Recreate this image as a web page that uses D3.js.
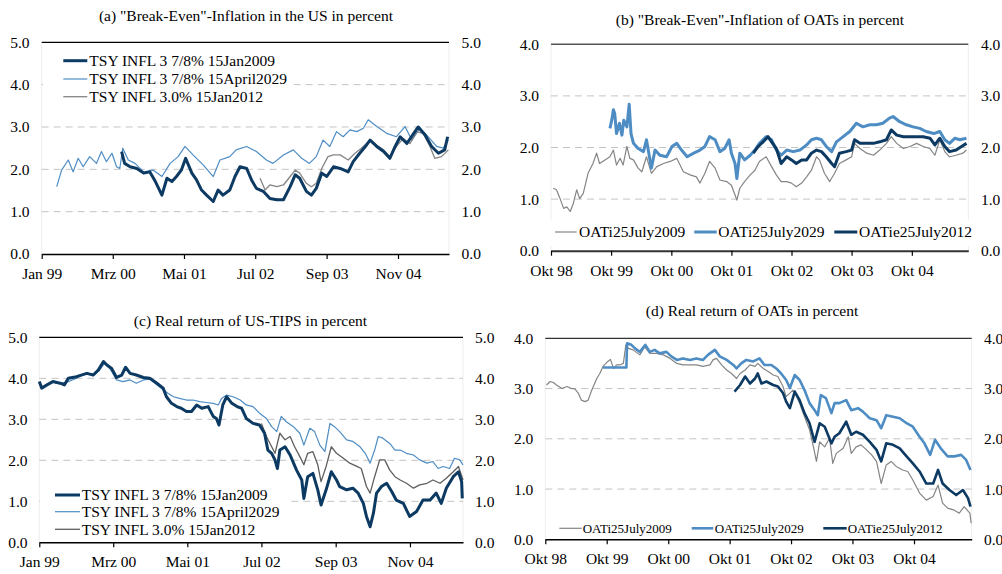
<!DOCTYPE html>
<html>
<head>
<meta charset="utf-8">
<script src="https://cdn.jsdelivr.net/npm/d3@7"></script>
<style>
  body { margin: 0; background: #fff; }
  svg { display: block; font-family: "Liberation Serif", "Times New Roman", serif; }
  svg text { font-family: "Liberation Serif", "Times New Roman", serif; }
</style>
</head>
<body>
<svg id="chart" width="1002" height="574"></svg>
<script>
// ---- data: [decimal year, percent] ----

// (a) break-even inflation, US TIPS
var usBe2009 = [[2000.31,2.42],[2000.36,2.14],[2000.45,2.06],[2000.56,2.02],[2000.67,1.91],[2000.77,1.94],[2000.86,1.71],[2000.97,1.39],[2001.05,1.79],[2001.13,1.71],[2001.21,1.83],[2001.29,1.98],[2001.36,2.26],[2001.46,1.91],[2001.54,1.75],[2001.62,1.51],[2001.70,1.39],[2001.81,1.24],[2001.89,1.51],[2001.97,1.39],[2002.08,1.51],[2002.17,1.83],[2002.25,2.06],[2002.36,2.02],[2002.44,1.75],[2002.52,1.55],[2002.63,1.48],[2002.74,1.31],[2002.85,1.28],[2002.96,1.28],[2003.07,1.59],[2003.15,1.87],[2003.23,1.79],[2003.34,1.48],[2003.42,1.39],[2003.50,1.55],[2003.59,1.91],[2003.67,1.83],[2003.78,2.06],[2003.89,2.02],[2004.02,1.94],[2004.10,2.18],[2004.21,2.38],[2004.32,2.57],[2004.38,2.69],[2004.49,2.54],[2004.60,2.42],[2004.70,2.26],[2004.79,2.54],[2004.87,2.77],[2004.98,2.61],[2005.09,2.85],[2005.17,3.00],[2005.28,2.81],[2005.39,2.54],[2005.50,2.38],[2005.60,2.46],[2005.65,2.77]];
var usBe2029 = [[1999.25,1.59],[1999.33,1.98],[1999.44,2.22],[1999.52,1.94],[1999.60,2.26],[1999.68,2.06],[1999.79,2.30],[1999.90,2.14],[1999.98,2.42],[2000.06,2.18],[2000.15,2.38],[2000.23,2.06],[2000.28,2.02],[2000.33,2.50],[2000.42,2.22],[2000.53,2.14],[2000.67,1.94],[2000.83,1.98],[2000.97,1.83],[2001.10,2.14],[2001.24,2.30],[2001.35,2.54],[2001.48,2.34],[2001.65,2.10],[2001.81,1.83],[2001.92,2.22],[2002.08,2.30],[2002.19,2.46],[2002.36,2.54],[2002.52,2.42],[2002.68,2.22],[2002.79,2.14],[2002.96,2.34],[2003.12,2.46],[2003.26,2.26],[2003.39,2.14],[2003.50,2.30],[2003.61,2.69],[2003.72,2.54],[2003.83,2.89],[2003.94,2.77],[2004.05,2.93],[2004.16,2.89],[2004.27,2.97],[2004.35,3.17],[2004.49,3.01],[2004.65,2.85],[2004.81,2.77],[2004.95,3.01],[2005.06,2.69],[2005.20,2.97],[2005.33,2.77],[2005.47,2.54],[2005.58,2.50],[2005.66,2.69]];
var usBe2012 = [[2002.58,1.79],[2002.66,1.51],[2002.74,1.63],[2002.85,1.59],[2002.96,1.63],[2003.07,1.83],[2003.15,1.98],[2003.23,1.91],[2003.34,1.67],[2003.42,1.59],[2003.50,1.67],[2003.59,2.02],[2003.69,2.30],[2003.78,2.34],[2003.89,2.34],[2004.02,2.22],[2004.13,2.38],[2004.24,2.50],[2004.38,2.69],[2004.49,2.57],[2004.60,2.46],[2004.70,2.30],[2004.81,2.54],[2004.92,2.73],[2005.03,2.61],[2005.14,2.89],[2005.25,2.85],[2005.36,2.54],[2005.44,2.26],[2005.55,2.30],[2005.66,2.46]];

// (b) break-even inflation, French OATs
var frBe2009 = [[1998.79,1.21],[1998.84,1.18],[1998.90,1.01],[1998.96,0.82],[1999.01,0.85],[1999.07,0.76],[1999.12,0.92],[1999.18,1.18],[1999.23,1.01],[1999.29,1.11],[1999.37,1.50],[1999.45,1.69],[1999.51,1.89],[1999.56,1.69],[1999.65,1.76],[1999.73,1.82],[1999.79,1.95],[1999.84,1.66],[1999.90,1.79],[1999.95,1.66],[2000.01,2.02],[2000.06,1.79],[2000.12,1.76],[2000.20,1.60],[2000.26,1.53],[2000.34,1.82],[2000.42,1.50],[2000.51,1.63],[2000.62,1.69],[2000.73,1.73],[2000.84,1.79],[2000.95,1.53],[2001.06,1.47],[2001.17,1.43],[2001.23,1.31],[2001.31,1.50],[2001.39,1.73],[2001.48,1.60],[2001.56,1.37],[2001.67,1.34],[2001.75,1.27],[2001.81,1.08],[2001.84,0.98],[2001.89,1.21],[2001.97,1.34],[2002.06,1.47],[2002.14,1.56],[2002.22,1.73],[2002.33,1.82],[2002.42,1.63],[2002.50,1.47],[2002.58,1.34],[2002.67,1.34],[2002.75,1.31],[2002.83,1.24],[2002.92,1.31],[2003.00,1.43],[2003.08,1.56],[2003.17,1.82],[2003.22,1.76],[2003.30,1.50],[2003.39,1.34],[2003.47,1.50],[2003.55,1.69],[2003.66,1.76],[2003.75,1.82],[2003.80,2.08],[2003.89,1.98],[2004.00,1.89],[2004.11,1.85],[2004.22,1.95],[2004.33,2.08],[2004.41,2.21],[2004.50,2.08],[2004.61,1.98],[2004.72,2.02],[2004.83,2.08],[2004.94,2.02],[2005.05,1.98],[2005.13,1.85],[2005.22,2.15],[2005.30,1.92],[2005.38,1.82],[2005.49,1.85],[2005.60,1.89],[2005.66,1.95]];
var frBe2029 = [[1999.73,2.37],[1999.76,2.53],[1999.79,2.73],[1999.81,2.66],[1999.84,2.27],[1999.89,2.47],[1999.93,2.24],[1999.96,2.53],[2000.01,2.40],[2000.05,2.84],[2000.08,2.27],[2000.12,2.08],[2000.20,1.98],[2000.29,1.92],[2000.34,2.15],[2000.42,1.60],[2000.48,1.95],[2000.56,1.85],[2000.67,1.82],[2000.76,2.02],[2000.84,2.08],[2000.92,1.95],[2001.01,1.82],[2001.12,1.89],[2001.23,1.95],[2001.31,2.02],[2001.39,2.21],[2001.48,2.15],[2001.56,1.92],[2001.64,1.98],[2001.71,2.15],[2001.75,1.89],[2001.81,1.69],[2001.84,1.40],[2001.89,1.89],[2001.97,1.76],[2002.06,1.85],[2002.14,1.95],[2002.22,2.08],[2002.33,2.21],[2002.42,2.15],[2002.50,1.95],[2002.58,1.85],[2002.67,1.95],[2002.78,1.92],[2002.89,1.95],[2003.00,2.05],[2003.08,2.15],[2003.17,2.18],[2003.25,2.15],[2003.33,2.02],[2003.42,1.92],[2003.50,2.11],[2003.61,2.21],[2003.72,2.31],[2003.83,2.47],[2003.94,2.40],[2004.05,2.44],[2004.16,2.44],[2004.27,2.47],[2004.38,2.57],[2004.44,2.60],[2004.55,2.50],[2004.66,2.44],[2004.77,2.40],[2004.88,2.37],[2004.99,2.31],[2005.11,2.27],[2005.22,2.31],[2005.30,2.15],[2005.38,2.08],[2005.47,2.18],[2005.55,2.15],[2005.66,2.18]];
var frBe2012 = [[2002.11,1.89],[2002.20,2.02],[2002.28,2.11],[2002.36,2.21],[2002.42,2.11],[2002.50,1.98],[2002.58,1.69],[2002.67,1.82],[2002.75,1.76],[2002.83,1.69],[2002.92,1.76],[2003.00,1.76],[2003.08,1.89],[2003.17,1.95],[2003.25,1.92],[2003.33,1.82],[2003.42,1.69],[2003.47,1.63],[2003.55,1.89],[2003.66,1.92],[2003.75,1.95],[2003.80,2.15],[2003.89,2.08],[2004.00,2.08],[2004.11,2.08],[2004.22,2.11],[2004.33,2.15],[2004.41,2.34],[2004.50,2.24],[2004.61,2.21],[2004.72,2.21],[2004.83,2.21],[2004.94,2.21],[2005.05,2.18],[2005.13,2.05],[2005.22,2.18],[2005.30,2.02],[2005.38,1.92],[2005.49,1.95],[2005.58,2.02],[2005.66,2.08]];

// (c) real yield, US TIPS
var usRy2009 = [[1999.00,3.92],[1999.04,3.76],[1999.12,3.84],[1999.22,3.92],[1999.33,3.88],[1999.40,3.84],[1999.46,4.00],[1999.59,4.04],[1999.75,4.12],[1999.85,4.08],[1999.93,4.20],[2000.01,4.41],[2000.06,4.33],[2000.14,4.24],[2000.22,4.02],[2000.30,4.08],[2000.36,4.27],[2000.43,4.12],[2000.53,4.08],[2000.64,4.02],[2000.74,4.00],[2000.85,3.88],[2000.95,3.76],[2001.00,3.55],[2001.08,3.39],[2001.16,3.31],[2001.24,3.27],[2001.32,3.19],[2001.40,3.19],[2001.48,3.35],[2001.56,3.27],[2001.66,3.31],[2001.74,3.07],[2001.79,3.02],[2001.83,2.86],[2001.89,3.35],[2001.95,3.55],[2002.03,3.39],[2002.11,3.31],[2002.19,3.27],[2002.26,3.02],[2002.37,2.90],[2002.47,2.86],[2002.55,2.66],[2002.60,2.25],[2002.66,2.17],[2002.71,2.01],[2002.75,1.80],[2002.79,2.25],[2002.87,2.33],[2002.95,2.13],[2003.05,1.76],[2003.13,1.52],[2003.17,1.07],[2003.23,1.60],[2003.31,1.68],[2003.39,1.28],[2003.44,0.91],[2003.52,1.28],[2003.60,1.72],[2003.68,1.52],[2003.73,1.36],[2003.84,1.28],[2003.94,1.32],[2004.02,1.20],[2004.10,0.95],[2004.15,0.63],[2004.21,0.38],[2004.26,0.71],[2004.31,1.20],[2004.39,1.36],[2004.47,1.44],[2004.55,1.24],[2004.62,1.03],[2004.73,0.95],[2004.83,0.63],[2004.94,0.75],[2005.04,1.03],[2005.15,1.03],[2005.25,1.20],[2005.33,0.95],[2005.41,1.32],[2005.52,1.60],[2005.60,1.72],[2005.65,1.48],[2005.66,1.07]];
var usRy2029 = [[1999.25,3.88],[1999.43,3.90],[1999.59,4.00],[1999.75,4.14],[1999.85,4.06],[1999.95,4.20],[2000.03,4.37],[2000.11,4.24],[2000.22,3.96],[2000.32,3.92],[2000.43,3.96],[2000.53,3.88],[2000.64,3.96],[2000.74,3.98],[2000.85,3.84],[2000.95,3.72],[2001.03,3.63],[2001.11,3.55],[2001.21,3.51],[2001.32,3.47],[2001.42,3.47],[2001.53,3.43],[2001.63,3.41],[2001.74,3.39],[2001.82,3.35],[2001.87,3.51],[2001.95,3.59],[2002.05,3.55],[2002.16,3.47],[2002.26,3.35],[2002.37,3.31],[2002.47,3.15],[2002.58,3.02],[2002.66,2.82],[2002.74,2.70],[2002.81,3.07],[2002.89,2.94],[2003.00,2.82],[2003.10,2.66],[2003.17,2.37],[2003.26,2.78],[2003.34,2.70],[2003.42,2.37],[2003.50,2.21],[2003.58,2.90],[2003.65,2.82],[2003.73,2.70],[2003.84,2.50],[2003.94,2.46],[2004.05,2.33],[2004.13,2.17],[2004.21,1.93],[2004.28,2.25],[2004.34,2.58],[2004.41,2.54],[2004.52,2.41],[2004.60,2.25],[2004.68,2.25],[2004.78,2.17],[2004.89,2.13],[2004.99,2.01],[2005.10,1.93],[2005.20,1.97],[2005.28,1.80],[2005.36,1.85],[2005.46,1.80],[2005.54,2.05],[2005.62,2.01],[2005.67,1.89]];
var usRy2012 = [[2002.50,2.90],[2002.58,2.58],[2002.66,2.33],[2002.71,2.17],[2002.79,2.66],[2002.87,2.50],[2002.95,2.58],[2003.02,2.33],[2003.10,2.09],[2003.17,1.89],[2003.23,2.17],[2003.31,2.21],[2003.39,1.89],[2003.44,1.48],[2003.52,1.85],[2003.60,2.33],[2003.68,2.17],[2003.79,2.05],[2003.89,1.93],[2004.00,1.85],[2004.07,1.80],[2004.15,1.36],[2004.21,1.20],[2004.28,1.60],[2004.36,2.01],[2004.44,2.01],[2004.52,1.76],[2004.60,1.60],[2004.68,1.52],[2004.78,1.44],[2004.89,1.32],[2004.99,1.40],[2005.10,1.44],[2005.20,1.52],[2005.31,1.44],[2005.41,1.56],[2005.52,1.72],[2005.60,1.85],[2005.67,1.52]];

// (d) real yield, French OATs
var frRy2009 = [[1998.77,3.07],[1998.83,3.14],[1998.88,3.12],[1998.93,3.07],[1999.02,3.00],[1999.10,3.04],[1999.18,3.00],[1999.23,3.00],[1999.29,2.91],[1999.34,2.77],[1999.40,2.74],[1999.45,2.77],[1999.50,2.94],[1999.59,3.20],[1999.64,3.30],[1999.69,3.44],[1999.77,3.54],[1999.81,3.58],[1999.86,3.40],[1999.91,3.47],[1999.96,3.47],[2000.02,3.50],[2000.06,3.87],[2000.10,3.80],[2000.18,3.77],[2000.29,3.67],[2000.37,3.83],[2000.45,3.70],[2000.56,3.70],[2000.67,3.67],[2000.78,3.60],[2000.89,3.50],[2000.99,3.47],[2001.10,3.47],[2001.21,3.47],[2001.32,3.44],[2001.43,3.47],[2001.48,3.57],[2001.54,3.60],[2001.62,3.47],[2001.70,3.37],[2001.78,3.30],[2001.86,3.20],[2001.92,3.30],[2002.00,3.37],[2002.08,3.47],[2002.16,3.44],[2002.21,3.50],[2002.30,3.40],[2002.38,3.34],[2002.46,3.27],[2002.54,3.24],[2002.62,3.04],[2002.67,2.84],[2002.73,2.91],[2002.78,2.97],[2002.84,2.84],[2002.89,2.71],[2002.97,2.44],[2003.05,2.18],[2003.11,1.84],[2003.16,1.55],[2003.22,1.94],[2003.30,1.84],[2003.38,2.01],[2003.43,1.51],[2003.49,1.71],[2003.60,1.81],[2003.68,2.04],[2003.73,1.71],[2003.81,1.84],[2003.89,1.88],[2003.98,1.78],[2004.06,1.68],[2004.14,1.55],[2004.22,1.11],[2004.30,1.48],[2004.38,1.55],[2004.46,1.45],[2004.57,1.38],[2004.65,1.35],[2004.73,1.18],[2004.84,0.92],[2004.95,0.78],[2005.06,0.85],[2005.14,1.08],[2005.22,0.72],[2005.30,0.62],[2005.41,0.58],[2005.49,0.52],[2005.57,0.65],[2005.66,0.52],[2005.68,0.32]];
var frRy2029 = [[1999.69,3.42],[1999.80,3.42],[1999.91,3.42],[2000.07,3.42],[2000.08,3.90],[2000.15,3.87],[2000.21,3.80],[2000.29,3.73],[2000.38,3.87],[2000.45,3.73],[2000.53,3.77],[2000.61,3.70],[2000.72,3.73],[2000.80,3.64],[2000.89,3.57],[2000.99,3.60],[2001.10,3.57],[2001.21,3.60],[2001.32,3.57],[2001.40,3.67],[2001.51,3.77],[2001.59,3.64],[2001.70,3.57],[2001.81,3.47],[2001.86,3.40],[2001.94,3.50],[2002.02,3.57],[2002.13,3.54],[2002.24,3.60],[2002.32,3.47],[2002.43,3.47],[2002.51,3.40],[2002.59,3.30],[2002.67,3.17],[2002.73,3.01],[2002.81,3.27],[2002.89,3.17],[2002.97,2.97],[2003.05,2.71],[2003.13,2.57],[2003.19,2.47],[2003.24,2.87],[2003.32,2.81],[2003.41,2.51],[2003.46,2.71],[2003.54,2.71],[2003.65,2.77],[2003.73,2.57],[2003.84,2.61],[2003.92,2.54],[2004.03,2.41],[2004.14,2.37],[2004.22,2.21],[2004.30,2.47],[2004.41,2.44],[2004.52,2.41],[2004.63,2.31],[2004.73,2.24],[2004.84,2.04],[2004.92,1.91],[2005.01,1.68],[2005.09,1.98],[2005.19,1.81],[2005.30,1.65],[2005.41,1.65],[2005.52,1.68],[2005.60,1.58],[2005.67,1.38]];
var frRy2012 = [[2001.83,2.94],[2001.92,3.07],[2002.00,3.24],[2002.08,3.10],[2002.16,3.20],[2002.21,3.30],[2002.27,3.10],[2002.35,3.14],[2002.46,3.07],[2002.54,3.04],[2002.62,2.91],[2002.67,2.74],[2002.73,2.61],[2002.81,2.94],[2002.89,2.77],[2002.97,2.51],[2003.05,2.31],[2003.13,1.94],[2003.22,2.31],[2003.30,2.24],[2003.41,1.91],[2003.46,2.04],[2003.54,2.11],[2003.65,2.34],[2003.73,2.08],[2003.81,2.14],[2003.92,2.08],[2004.03,1.94],[2004.14,1.78],[2004.22,1.55],[2004.30,1.91],[2004.41,1.88],[2004.52,1.81],[2004.63,1.65],[2004.73,1.51],[2004.84,1.35],[2004.95,1.11],[2005.06,1.11],[2005.14,1.38],[2005.22,1.11],[2005.33,0.98],[2005.44,0.88],[2005.55,0.98],[2005.63,0.82],[2005.67,0.65]];

var usNames = ["TSY INFL 3 7/8% 15Jan2009", "TSY INFL 3 7/8% 15April2029", "TSY INFL 3.0% 15Jan2012"];
var frNames = ["OATi25July2009", "OATi25July2029", "OATie25July2012"];
var titles = [
  "(a) \"Break-Even\"-Inflation in the US in percent",
  "(b) \"Break-Even\"-Inflation of OATs in percent",
  "(c) Real return of US-TIPS in percent",
  "(d) Real return of OATs in percent"
];
var germanShortMonths = ["Jan","Feb","Mrz","Apr","Mai","Jun","Jul","Aug","Sep","Okt","Nov","Dez"];

var navy = "#0c3a62", blue = "#4e8dc4", grey = "#858585", darkGrey = "#5e5e5e";
var serif = "Liberation Serif, Times New Roman, serif";

// german month labels for the time axis
var de = d3.timeFormatLocale({
  dateTime: "%A, %e. %B %Y, %X", date: "%d.%m.%Y", time: "%H:%M:%S",
  periods: ["AM", "PM"],
  days: ["Sonntag","Montag","Dienstag","Mittwoch","Donnerstag","Freitag","Samstag"],
  shortDays: ["So","Mo","Di","Mi","Do","Fr","Sa"],
  months: ["Januar","Februar","März","April","Mai","Juni","Juli","August","September","Oktober","November","Dezember"],
  shortMonths: germanShortMonths
});
var fmtMonth = de.format("%b %y");

//decimal year -> Date (month based, so 1998.75 is 1 Oct)
function toDate(y) {
  var yr = Math.floor(y);
  var m = (y - yr) * 12;
  var mi = Math.floor(m + 1e-6);
  return new Date(yr, mi, 1 + Math.round((m - mi) * 30));
}

var svg = d3.select("#chart");

function drawPanel(p) {
  var g = svg.append("g");
  var x = d3.scaleTime().domain([toDate(p.start), toDate(p.end)]).range([p.left, p.right]);
  var y = d3.scaleLinear().domain([0, p.max]).range([p.bottom, p.top]);

  //faint frame at the sides
  g.selectAll(".side").data([p.left, p.right]).enter().append("line")
    .attr("x1", function(d) { return d; }).attr("x2", function(d) { return d; })
    .attr("y1", p.top).attr("y2", p.bottom)
    .attr("stroke", "#ededed").attr("stroke-width", 1);

  //dashed grid
  var grid = d3.range(1, p.max);
  g.selectAll(".grid").data(grid).enter().append("line")
    .attr("x1", p.left).attr("x2", p.right)
    .attr("y1", function(d) { return y(d); }).attr("y2", function(d) { return y(d); })
    .attr("stroke", "#c4c4c4").attr("stroke-width", 1)
    .attr("stroke-dasharray", "7,5");

  //top line
  g.append("line")
    .attr("x1", p.left).attr("x2", p.right)
    .attr("y1", y(p.max)).attr("y2", y(p.max))
    .attr("stroke", p.topColor).attr("stroke-width", p.topWidth);

  //lines
  var line = d3.line()
    .x(function(d) { return x(toDate(d[0])); })
    .y(function(d) { return y(d[1]); });
  p.series.forEach(function(s) {
    g.append("path")
      .datum(s.data)
      .attr("d", line)
      .attr("fill", "none")
      .attr("stroke", s.color)
      .attr("stroke-width", s.width)
      .attr("stroke-linejoin", "round");
  });

  //legend box + entries
  g.append("rect")
    .attr("x", p.legendBox[0]).attr("y", p.legendBox[1])
    .attr("width", p.legendBox[2]).attr("height", p.legendBox[3])
    .attr("fill", "#fff");
  p.legendOrder.forEach(function(idx, i) {
    var s = p.series[idx];
    var pos = p.legendPos[i];
    g.append("line")
      .attr("x1", pos[0]).attr("x2", pos[1])
      .attr("y1", pos[3]).attr("y2", pos[3])
      .attr("stroke", s.color).attr("stroke-width", s.width);
    g.append("text")
      .attr("x", pos[2]).attr("y", pos[3])
      .attr("dy", "0.35em")
      .attr("font-family", serif)
      .style("font-size", p.legendSize + "px")
      .text(s.name);
  });

  //x axis
  var ticks = d3.timeMonth.range(toDate(p.start), toDate(p.end), p.tickStep);
  var xAxis = g.append("g")
    .attr("transform", "translate(0," + p.bottom + ")")
    .call(d3.axisBottom(x).tickValues(ticks).tickFormat(fmtMonth)
      .tickSizeInner(5).tickSizeOuter(0).tickPadding(9));
  xAxis.attr("font-family", serif).attr("font-size", null);
  xAxis.select(".domain").attr("stroke", p.axisColor).attr("stroke-width", p.axisWidth);
  xAxis.selectAll(".tick line").attr("stroke", "#000").attr("stroke-width", 1.2);
  xAxis.selectAll("text").style("font-size", "15.5px").attr("fill", "#000")
    .attr("font-family", serif);

  //y labels both sides
  var yl = g.append("g")
    .attr("transform", "translate(" + p.left + ",0)")
    .call(d3.axisLeft(y).ticks(p.max).tickFormat(d3.format(".1f"))
      .tickSize(0).tickPadding(p.left - p.leftLabel));
  var yr = g.append("g")
    .attr("transform", "translate(" + p.right + ",0)")
    .call(d3.axisRight(y).ticks(p.max).tickFormat(d3.format(".1f"))
      .tickSize(0).tickPadding(p.rightLabel - p.right));
  [yl, yr].forEach(function(a) {
    a.attr("font-family", serif).attr("font-size", null);
    a.select(".domain").remove();
    a.selectAll("text").style("font-size", "15.5px").attr("fill", "#000")
      .attr("font-family", serif);
  });

  //title
  g.append("text")
    .attr("x", p.titleX).attr("y", p.titleY)
    .attr("text-anchor", "middle")
    .attr("font-family", serif)
    .style("font-size", "15.5px")
    .text(p.title);
}

var panels = [
  {
    title: titles[0], titleX: 246, titleY: 21,
    left: 41.7, right: 449, top: 42.3, bottom: 254,
    leftLabel: 29.5, rightLabel: 461.5,
    start: 1999.0, end: 2005.67, tickStep: 14, max: 5,
    topColor: "#000", topWidth: 1.3, axisColor: "#000", axisWidth: 1.5,
    series: [
      { name: usNames[1], data: usBe2029, color: blue, width: 1.2 },
      { name: usNames[2], data: usBe2012, color: grey, width: 1.3 },
      { name: usNames[0], data: usBe2009, color: navy, width: 3 }
    ],
    legendOrder: [2, 0, 1],
    legendBox: [43, 50, 247, 55],
    legendPos: [[63.3, 87.3, 89.3, 60.7], [63.3, 87.3, 89.3, 79], [63.3, 87.3, 89.3, 96.7]],
    legendSize: 15.5
  },
  {
    title: titles[1], titleX: 760, titleY: 24.5,
    left: 551, right: 968.3, top: 44.3, bottom: 250.7,
    leftLabel: 539, rightLabel: 981,
    start: 1998.75, end: 2005.69, tickStep: 12, max: 4,
    topColor: "#555", topWidth: 1.6, axisColor: "#333", axisWidth: 2,
    series: [
      { name: frNames[0], data: frBe2009, color: grey, width: 1.2 },
      { name: frNames[1], data: frBe2029, color: blue, width: 3 },
      { name: frNames[2], data: frBe2012, color: navy, width: 3 }
    ],
    legendOrder: [0, 1, 2],
    legendBox: [548, 220, 424, 26],
    legendPos: [[555, 576.7, 579, 232], [694.3, 716.7, 718.3, 232], [834.3, 857.3, 859, 232]],
    legendSize: 15.5
  },
  {
    title: titles[2], titleX: 250.5, titleY: 326,
    left: 39.3, right: 463, top: 337.3, bottom: 542.3,
    leftLabel: 27.5, rightLabel: 475,
    start: 1999.0, end: 2005.67, tickStep: 14, max: 5,
    topColor: "#000", topWidth: 1.3, axisColor: "#000", axisWidth: 1.5,
    series: [
      { name: usNames[1], data: usRy2029, color: blue, width: 1.2 },
      { name: usNames[2], data: usRy2012, color: darkGrey, width: 1.3 },
      { name: usNames[0], data: usRy2009, color: navy, width: 3 }
    ],
    legendOrder: [2, 0, 1],
    legendBox: [40, 483, 250, 58],
    legendPos: [[55, 80, 81.7, 495], [55, 80, 81.7, 511.7], [55, 80, 81.7, 529.3]],
    legendSize: 15.5
  },
  {
    title: titles[3], titleX: 752, titleY: 315.5,
    left: 545.3, right: 971.7, top: 338.3, bottom: 539.3,
    leftLabel: 533.3, rightLabel: 984,
    start: 1998.75, end: 2005.69, tickStep: 12, max: 4,
    topColor: "#333", topWidth: 1.3, axisColor: "#000", axisWidth: 1.5,
    series: [
      { name: frNames[0], data: frRy2009, color: grey, width: 1.2 },
      { name: frNames[1], data: frRy2029, color: blue, width: 2.6 },
      { name: frNames[2], data: frRy2012, color: navy, width: 2.6 }
    ],
    legendOrder: [0, 1, 2],
    legendBox: [547, 519, 423, 18],
    legendPos: [[559.3, 581.7, 582.7, 528.3], [691.7, 713.3, 714.7, 528.3], [823.3, 846.7, 847.7, 528.3]],
    legendSize: 13
  }
];

panels.forEach(drawPanel);
</script>
</body>
</html>
